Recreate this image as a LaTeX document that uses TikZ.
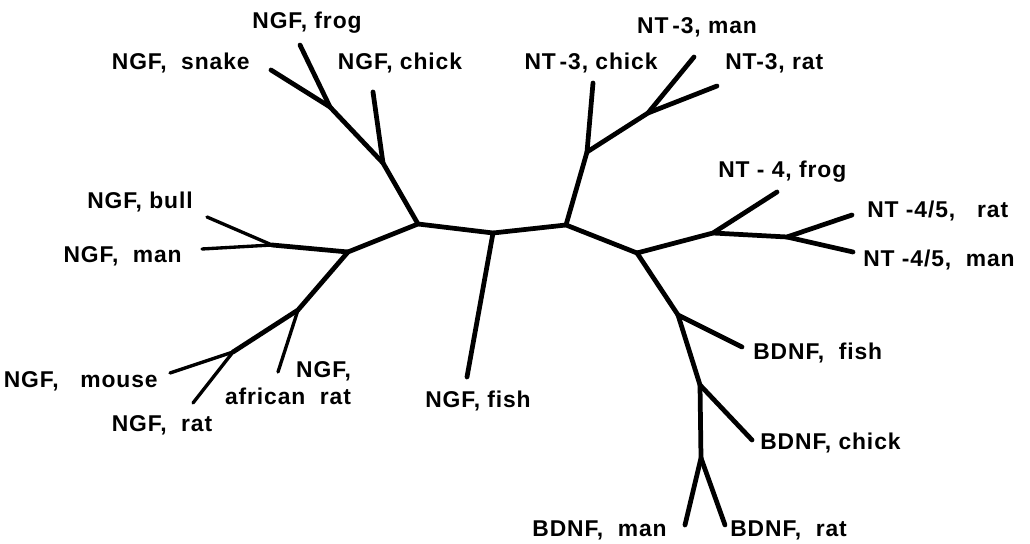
\documentclass[tikz,border=0pt]{standalone}
\usepackage{fontspec}
\setmainfont{Liberation Sans}
\newfontfamily\lblfont[LetterSpace=4]{Liberation Sans}
\usetikzlibrary{positioning}

\begin{document}
\begin{tikzpicture}[x=0.2mm,y=-0.2mm,br/.style={line width=2.7pt,line cap=round,line join=round},thin br/.style={line width=1.9pt,line cap=round,line join=round},lbl/.style={font=\lblfont\fontsize{13}{15}\selectfont\bfseries,inner sep=0pt}]
\useasboundingbox (0,0) rectangle (1030,544);
% inner junctions
\coordinate (ngfL) at (348,252);
\coordinate (ngfT) at (418,224);
\coordinate (mid) at (493,233);
\coordinate (nt3) at (566,225);
\coordinate (nt4) at (637,253);
% NGF side
\coordinate (bullman) at (272,245);
\coordinate (bulltip) at (207,217);
\coordinate (mantip) at (202,249);
\coordinate (afr) at (298,310);
\coordinate (afrtip) at (278,372);
\coordinate (mouserat) at (233,352);
\coordinate (mousetip) at (170,373);
\coordinate (rattip) at (193,403);
\coordinate (chickj) at (383,163);
\coordinate (chicktip) at (373,92);
\coordinate (snakefrog) at (330,107);
\coordinate (snaketip) at (271,70);
\coordinate (frogtip) at (300,45);
\coordinate (fishtip) at (467,377);
% NT-3 side
\coordinate (t3chickj) at (587,152);
\coordinate (t3chicktip) at (593,83);
\coordinate (t3mr) at (648,113);
\coordinate (t3mantip) at (694,57);
\coordinate (t3rattip) at (717,86);
% NT-4 side
\coordinate (t4frogj) at (713,233);
\coordinate (t4frogtip) at (777,192);
\coordinate (t45) at (787,237);
\coordinate (t45rattip) at (852,215);
\coordinate (t45mantip) at (853,252);
% BDNF side
\coordinate (bfishj) at (678,315);
\coordinate (bfishtip) at (742,347);
\coordinate (bchickj) at (700,385);
\coordinate (bchicktip) at (752,440);
\coordinate (bmr) at (701,458);
\coordinate (bmantip) at (685,525);
\coordinate (brattip) at (725,525);

\draw[br] (ngfL)--(ngfT)--(mid)--(nt3)--(nt4);
\draw[br] (ngfL)--(bullman);
\draw[thin br] (bullman)--(bulltip);
\draw[thin br] (bullman)--(mantip);
\draw[br] (ngfL)--(afr)--(mouserat);
\draw[thin br] (afr)--(afrtip);
\draw[thin br] (mouserat)--(mousetip);
\draw[thin br] (mouserat)--(rattip);
\draw[br] (ngfT)--(chickj)--(snakefrog);
\draw[br] (chickj)--(chicktip);
\draw[br] (snakefrog)--(snaketip);
\draw[br] (snakefrog)--(frogtip);
\draw[br] (mid)--(fishtip);
\draw[br] (nt3)--(t3chickj)--(t3chicktip);
\draw[br] (t3chickj)--(t3mr)--(t3mantip);
\draw[br] (t3mr)--(t3rattip);
\draw[br] (nt4)--(t4frogj)--(t4frogtip);
\draw[br] (t4frogj)--(t45)--(t45rattip);
\draw[br] (t45)--(t45mantip);
\draw[br] (nt4)--(bfishj)--(bfishtip);
\draw[br] (bfishj)--(bchickj)--(bchicktip);
\draw[br] (bchickj)--(bmr)--(bmantip);
\draw[br] (bmr)--(brattip);

% labels
\node[lbl] (lfrog) at (307,23) {NGF, frog};
\node[lbl,anchor=east] (lsnake) at (250,63) {NGF,\ \ snake};
\node[lbl] (lchick) at (400,63) {NGF, chick};
\node[lbl,anchor=east] (lbull) at (193,202) {NGF, bull};
\node[lbl,anchor=east] (lman) at (182,256) {NGF,\ \ man};
\node[lbl,anchor=east] (lmouse) at (158,381) {NGF,\ \ \ mouse};
\node[lbl] (lrat) at (162,425) {NGF,\ \ rat};
\node[lbl,align=right] (lafr) at (288,383) {NGF,\\african\ \ rat};
\node[lbl] (lfish) at (478,401) {NGF, fish};
\node[lbl] (l3chick) at (591,63) {NT\,-3, chick};
\node[lbl] (l3man) at (697,27) {NT\,-3, man};
\node[lbl,anchor=west] (l3rat) at (725,63) {NT-3, rat};
\node[lbl,anchor=west] (l4frog) at (718,172) {NT - 4, frog};
\node[lbl,anchor=west] (l45rat) at (867,211) {NT -4/5,\ \ \ rat};
\node[lbl,anchor=west] (l45man) at (863,260) {NT -4/5,\ \ man};
\node[lbl,anchor=west] (lbfish) at (753,353) {BDNF,\ \ fish};
\node[lbl,anchor=west] (lbchick) at (760,443) {BDNF, chick};
\node[lbl,anchor=east] (lbman) at (667,530) {BDNF,\ \ man};
\node[lbl,anchor=west] (lbrat) at (730,530) {BDNF,\ \ rat};
\end{tikzpicture}
\end{document}
